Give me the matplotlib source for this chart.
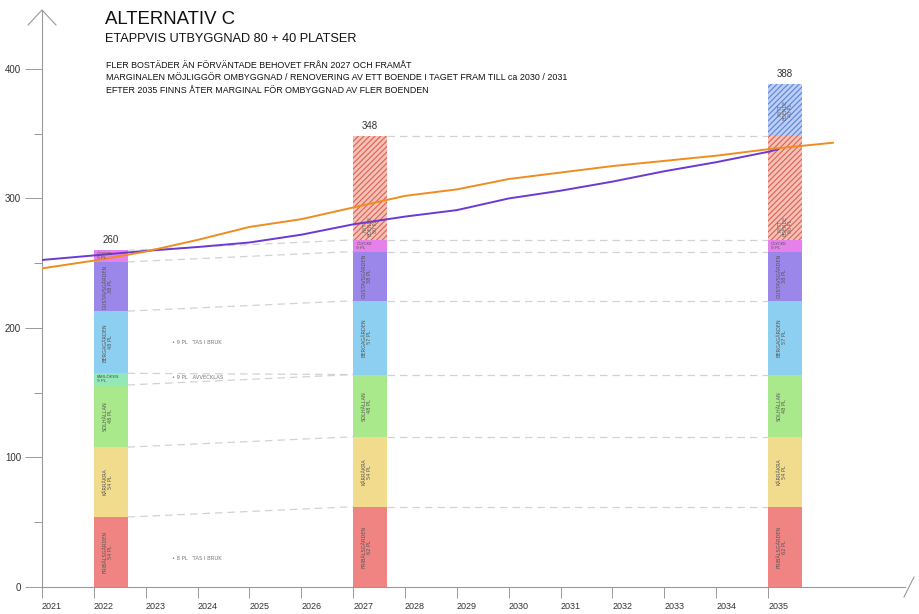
import numpy as np
import matplotlib.pyplot as plt
from matplotlib.lines import Line2D

plt.rcParams['font.family'] = ['Liberation Sans', 'DejaVu Sans']
plt.rcParams['hatch.linewidth'] = 0.8

# staplar (platser per boende)
bar_years = [2022, 2027, 2035]
bar_totals = [260, 348, 388]

seg_names = ['FRIBÄLSGÅRDEN', 'KÄRRÅKRA', 'SOLHÄLLAN', 'FÄRLÖKEN', 'BERGAGÅRDEN',
             'GUSTAVSGÅRDEN', 'ÖLYCKE', 'NYTT\nBOENDE', 'NYTT\nBOENDE']
fribals = [54, 62, 62]
karrakra = [54, 54, 54]
solhallan = [48, 48, 48]
farloken = [9, 0, 0]
bergagarden = [48, 57, 57]
gustavsgarden = [38, 38, 38]
olycke = [9, 9, 9]
nytt_80 = [0, 80, 80]
nytt_40 = [0, 0, 40]
segments = [fribals, karrakra, solhallan, farloken, bergagarden,
            gustavsgarden, olycke, nytt_80, nytt_40]

seg_colors = ['#f08482', '#f1dc8e', '#a9e98b', '#92e8b6', '#8ccff0',
              '#9b87e9', '#e680ea', '#f4c2b8', '#bccff3']
seg_hatch = [None] * 7 + ['//////', '//////']
seg_hatch_col = [None] * 7 + ['#e0604c', '#5a82de']

# behovskurvor
years_orange = [2021, 2022, 2023, 2024, 2025, 2026, 2027, 2028, 2029, 2030,
                2031, 2032, 2033, 2034, 2035, 2036, 2036.25]
need_orange = [246, 252, 259, 268, 278, 284, 293, 302, 307, 315,
               320, 325, 329, 333, 338, 342, 343]
years_purple = [2021, 2022, 2023, 2024, 2025, 2026, 2027, 2028, 2029, 2030,
                2031, 2032, 2033, 2034, 2035, 2035.2]
need_purple = [252.5, 256, 259.5, 262.5, 266, 272, 280, 286, 291, 300,
               306, 313, 321, 328, 336, 338]

notes = ['• 9 PL   TAS I BRUK', '• 9 PL   AVVECKLAS', '• 8 PL   TAS I BRUK']
notes_y = [189, 162, 22]

bar_w = 0.65

fig = plt.figure(figsize=(9.2, 6.14), dpi=100)
ax = fig.add_axes([42 / 920, 27 / 614, 863 / 920, 577 / 614])
ax.set_xlim(2021, 2037.64)
ax.set_ylim(0, 445.5)

bottoms = np.zeros(3)
tops_all = []
for name, vals, col, h, hc in zip(seg_names, segments, seg_colors, seg_hatch, seg_hatch_col):
    vals = np.array(vals, dtype=float)
    bars = ax.bar(bar_years, vals, bottom=bottoms, width=bar_w, align='edge',
                  color=col, linewidth=0, zorder=2)
    if h:
        for b in bars:
            b.set_hatch(h)
            b.set_edgecolor(hc)
            b.set_linewidth(0)
    for x, v, b0 in zip(bar_years, vals, bottoms):
        if v == 0:
            continue
        txt = f'{name}\n{int(v)} PL'
        if h:
            yy = b0 + 3 if v > 60 else b0 + v / 2
            ax.text(x + 0.33, yy, txt, rotation=90, fontsize=3.4, color='#666666',
                    ha='center', va='bottom' if v > 60 else 'center',
                    family='DejaVu Sans', linespacing=1.0, zorder=5)
        elif v < 15:
            ax.text(x + 0.06, b0 + v / 2, txt, fontsize=3.2, color='#555555',
                    ha='left', va='center', family='DejaVu Sans', linespacing=0.9, zorder=5)
        else:
            ax.text(x + 0.27, b0 + v / 2, txt, rotation=90, fontsize=3.6, color='#555555',
                    ha='center', va='center', family='DejaVu Sans', linespacing=1.1, zorder=5)
    tops_all.append((vals, bottoms + vals))
    bottoms = bottoms + vals

# streckade förbindelselinjer mellan staplarna
for vals, tops in tops_all:
    for i in range(2):
        if vals[i] == 0:
            continue
        ax.plot([bar_years[i] + bar_w, bar_years[i + 1]], [tops[i], tops[i + 1]],
                color='#d2d2d2', lw=0.9, dashes=(6, 4), zorder=1)

for x, t in zip(bar_years, bar_totals):
    ax.text(x + bar_w / 2, t + 4, str(t), ha='center', va='bottom', fontsize=7, color='#333333')

ax.plot(years_purple, need_purple, color='#6a3ad2', lw=1.4, zorder=4)
ax.plot(years_orange, need_orange, color='#f08c1e', lw=1.4, zorder=4)

for t, y in zip(notes, notes_y):
    ax.text(2023.5, y, t, fontsize=3.8, color='#777777', ha='left', va='center',
            family='DejaVu Sans')

# axlar
for s in ['top', 'right']:
    ax.spines[s].set_visible(False)
for s in ['left', 'bottom']:
    ax.spines[s].set_color('#999999')
    ax.spines[s].set_linewidth(0.8)

ax.set_yticks([0, 100, 200, 300, 400])
ax.set_yticks([50, 150, 250, 350], minor=True)
ax.tick_params(axis='y', which='major', length=12, width=0.7, color='#999999',
               labelsize=7, labelcolor='#333333', pad=3)
ax.tick_params(axis='y', which='minor', length=6, width=0.7, color='#999999')
ax.set_xticks(range(2021, 2036))
ax.tick_params(axis='x', length=8, width=0.7, color='#999999', labelsize=6.5,
               labelcolor='#333333', pad=3)
plt.setp(ax.get_xticklabels(), ha='left')

# pil på y-axeln och snedstreck på x-axeln
W, H = 920, 614
fig.add_artist(Line2D([28 / W, 42 / W, 56 / W], [1 - 25 / H, 1 - 10 / H, 1 - 25 / H],
                      color='#999999', lw=0.8, transform=fig.transFigure))
fig.add_artist(Line2D([904 / W, 914 / W], [1 - 597 / H, 1 - 577 / H],
                      color='#999999', lw=0.8, transform=fig.transFigure))

# rubriker
fig.text(105 / W, 1 - 19 / H, 'ALTERNATIV C', fontsize=13.4, color='#111111', va='center')
fig.text(105 / W, 1 - 39 / H, 'ETAPPVIS UTBYGGNAD 80 + 40 PLATSER', fontsize=9.2,
         color='#111111', va='center')
fig.text(106 / W, 1 - 78 / H,
         'FLER BOSTÄDER ÄN FÖRVÄNTADE BEHOVET FRÅN 2027 OCH FRAMÅT\n'
         'MARGINALEN MÖJLIGGÖR OMBYGGNAD / RENOVERING AV ETT BOENDE I TAGET FRAM TILL ca 2030 / 2031\n'
         'EFTER 2035 FINNS ÅTER MARGINAL FÖR OMBYGGNAD AV FLER BOENDEN',
         fontsize=6.4, color='#111111', va='center', linespacing=1.45)

fig.savefig('out.png', dpi=100)
